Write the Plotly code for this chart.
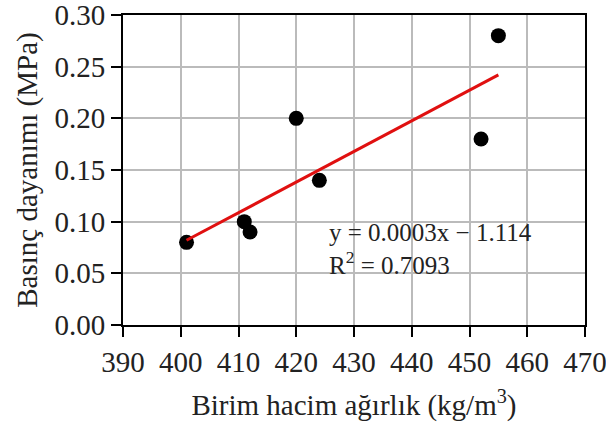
import plotly.graph_objects as go

# Data
density = [401, 411, 412, 420, 424, 452, 455]
strength = [0.08, 0.10, 0.09, 0.20, 0.14, 0.18, 0.28]
trend_x = [401, 455]
trend_y = [0.082, 0.242]
x_ticks = [390, 400, 410, 420, 430, 440, 450, 460, 470]
y_ticks = [0.00, 0.05, 0.10, 0.15, 0.20, 0.25, 0.30]
eq_text = "y = 0.0003x − 1.114<br>R<sup>2</sup> = 0.7093"

FONT = "Liberation Serif"
TXT = "#222222"

fig = go.Figure()
fig.add_trace(go.Scatter(x=density, y=strength, mode="markers",
                         marker=dict(color="black", size=15), showlegend=False))
fig.add_trace(go.Scatter(x=trend_x, y=trend_y, mode="lines",
                         line=dict(color="#e01010", width=3), showlegend=False))

fig.add_annotation(x=425.3, y=0.074, xref="x", yref="y", text=eq_text,
                   showarrow=False, xanchor="left", yanchor="middle", align="left",
                   font=dict(family=FONT, size=25, color=TXT))

axis_common = dict(showline=True, linecolor="black", linewidth=2, mirror=True,
                   ticks="outside", ticklen=10, tickwidth=2, tickcolor="black",
                   showgrid=True, gridcolor="#bbbbbb", gridwidth=1.5,
                   zeroline=False, automargin=False, ticklabeloverflow="allow",
                   tickfont=dict(family=FONT, size=29, color=TXT))

fig.update_xaxes(range=[390, 470], tickvals=x_ticks,
                 title=dict(text="Birim hacim ağırlık (kg/m<sup>3</sup>)",
                            font=dict(family=FONT, size=29, color=TXT), standoff=18),
                 **axis_common)
fig.update_yaxes(range=[0, 0.30], tickvals=y_ticks, tickformat=".2f",
                 title=dict(text="Basınç dayanımı (MPa)",
                            font=dict(family=FONT, size=29, color=TXT), standoff=8),
                 **axis_common)

fig.update_layout(width=606, height=428, plot_bgcolor="white", paper_bgcolor="white",
                  margin=dict(l=123, r=21, t=15, b=103))

fig.write_html("out.html")
